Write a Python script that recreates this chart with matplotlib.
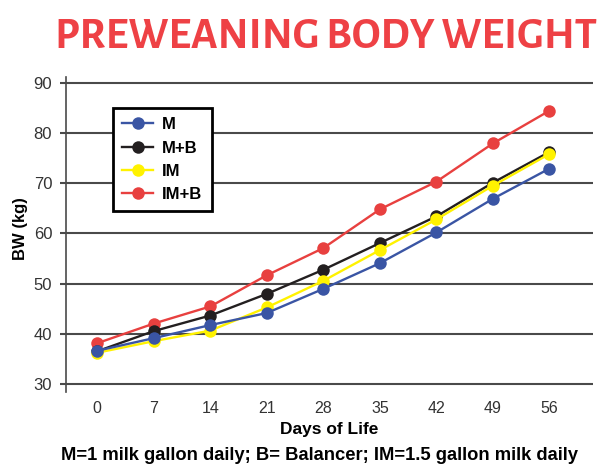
import matplotlib.pyplot as plt
from matplotlib import font_manager

# 数据：日龄与各组体重 (kg)
days = [0, 7, 14, 21, 28, 35, 42, 49, 56]
bw_m = [36.7, 39.2, 41.8, 44.2, 49.0, 54.1, 60.2, 66.9, 72.9]
bw_mb = [36.6, 40.6, 43.7, 48.0, 52.8, 58.1, 63.4, 70.1, 76.2]
bw_im = [36.3, 38.6, 40.7, 45.3, 50.6, 56.7, 62.8, 69.5, 75.8]
bw_imb = [38.2, 42.1, 45.5, 51.7, 57.1, 64.8, 70.3, 77.9, 84.4]

title_text = 'PREWEANING BODY WEIGHT'

plt.rcParams['font.family'] = ['Liberation Sans', 'DejaVu Sans']

fig = plt.figure(figsize=(5.97, 4.76), dpi=100)
ax = fig.add_axes([0.1106, 0.1765, 0.8827, 0.6617])
r = fig.canvas.get_renderer()

# 标题字体：在已装的粗体无衬线字体里挑 32pt 时宽度最接近 542px 的
skip = ('Mono', 'Serif', 'CJK', 'STIX', 'cm', 'Math', 'Display', 'Symbol')
bold_names = sorted({f.name for f in font_manager.fontManager.ttflist
                     if isinstance(f.weight, int) and f.weight >= 600
                     or f.weight in ('bold', 'heavy', 'black', 'semibold', 'demibold')})
best = ('Liberation Sans', 1e9)
for name in bold_names:
    if any(s in name for s in skip):
        continue
    t = fig.text(0, 0, title_text, fontsize=32, fontweight='bold', family=name)
    w = t.get_window_extent(r).width
    t.remove()
    if abs(w - 542) < abs(best[1] - 542):
        best = (name, w)
title_family = best[0]

grid_c = '#4a4a4a'
# 画线顺序：红、黑、黄、蓝（蓝在最上）
series = [
    (bw_imb, '#e8403f', 'IM+B'),
    (bw_mb, '#231f20', 'M+B'),
    (bw_im, '#fff200', 'IM'),
    (bw_m, '#3a55a4', 'M'),
]
handles = {}
for vals, col, name in series:
    h, = ax.plot(days, vals, color=col, lw=1.7, marker='o', ms=9,
                 markeredgewidth=0, label=name)
    handles[name] = h

ax.set_xlim(-3.87, 61.4)
ax.set_ylim(28.5, 91.1)
ax.set_yticks(range(30, 91, 10))
ax.set_xticks(days)
ax.yaxis.grid(True, color=grid_c, lw=1.5)
ax.set_axisbelow(True)

for s in ['top', 'right', 'bottom']:
    ax.spines[s].set_visible(False)
ax.spines['left'].set_color(grid_c)
ax.spines['left'].set_linewidth(1.2)

ax.tick_params(axis='y', length=4.5, width=1.5, color=grid_c,
               labelsize=12, labelcolor='#333333', pad=5.5)
ax.tick_params(axis='x', length=0, labelsize=11.5, labelcolor='#333333', pad=6.5)

ax.set_xlabel('Days of Life', fontsize=12.5, fontweight='bold', labelpad=4)
ax.set_ylabel('BW (kg)', fontsize=12, fontweight='bold')
ax.yaxis.set_label_coords(-0.072, 0.52)

order = ['M', 'M+B', 'IM', 'IM+B']
leg = ax.legend([handles[k] for k in order], order, loc='upper left',
                bbox_to_anchor=(0.089, 0.9016), borderaxespad=0,
                fancybox=False, framealpha=1, edgecolor='black',
                prop={'weight': 'bold', 'size': 12}, handlelength=1.85,
                handletextpad=0.55, labelspacing=0.5, borderpad=0.55)
leg.get_frame().set_linewidth(2)

title = fig.text(0.546, 0.929, title_text, color='#ee4145',
                 fontsize=32, fontweight='bold', ha='center', va='center',
                 family=[title_family, 'DejaVu Sans'])
w = title.get_window_extent(r).width
title.set_fontsize(32 * 542 / w)

fig.text(0.536, 0.044, 'M=1 milk gallon daily; B= Balancer; IM=1.5 gallon milk daily',
         fontsize=13.2, fontweight='bold', ha='center', va='center')

fig.savefig('out.png', dpi=100)
